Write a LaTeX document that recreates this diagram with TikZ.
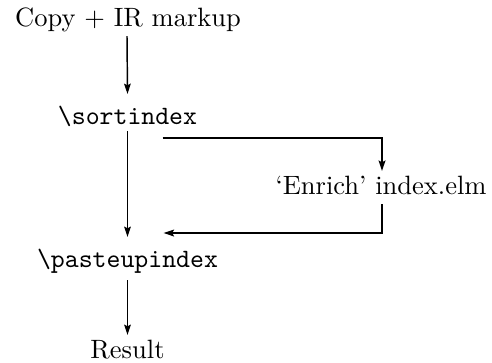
\documentclass[tikz,border=0pt]{standalone}
\usetikzlibrary{arrows.meta,calc}
\begin{document}
\begin{tikzpicture}[
  x=0.3774pt, y=-0.3774pt,
  lbl/.style={inner sep=0pt, anchor=base},
  tip/.style={-{Stealth[length=3.9pt,width=2.5pt,inset=0.6pt]}},
  flow/.style={tip, line width=0.55pt},
  loop/.style={tip, line width=0.85pt},
]
\useasboundingbox (0,0) rectangle (492,362);

% stages of the pipeline
\node[lbl] (copy)   at (128,26)  {Copy + IR markup};
\node[lbl] (sort)   at (127.5,124) {\texttt{\string\sortindex}};
\node[lbl] (enrich) at (381,194) {`Enrich' index.elm};
\node[lbl] (paste)  at (127.5,267) {\texttt{\string\pasteupindex}};
\node[lbl] (result) at (127.5,358) {Result};

% main vertical flow
\draw[flow] ($(copy.base)+(-1,10)$) -- ($(sort.base)+(0,-30)$);
\draw[flow] ($(sort.base)+(0,7)$) -- ($(paste.base)+(0,-30)$);
\draw[flow] ($(paste.base)+(0,13)$) -- ($(result.base)+(0,-23)$);

% side loop through the enrichment step
\draw[loop] ($(sort.base)+(35,14)$) -| ($(enrich.base)+(1,-23)$);
\draw[loop] ($(enrich.base)+(1,10)$) |- ($(paste.base)+(36,-34)$);
\end{tikzpicture}
\end{document}
